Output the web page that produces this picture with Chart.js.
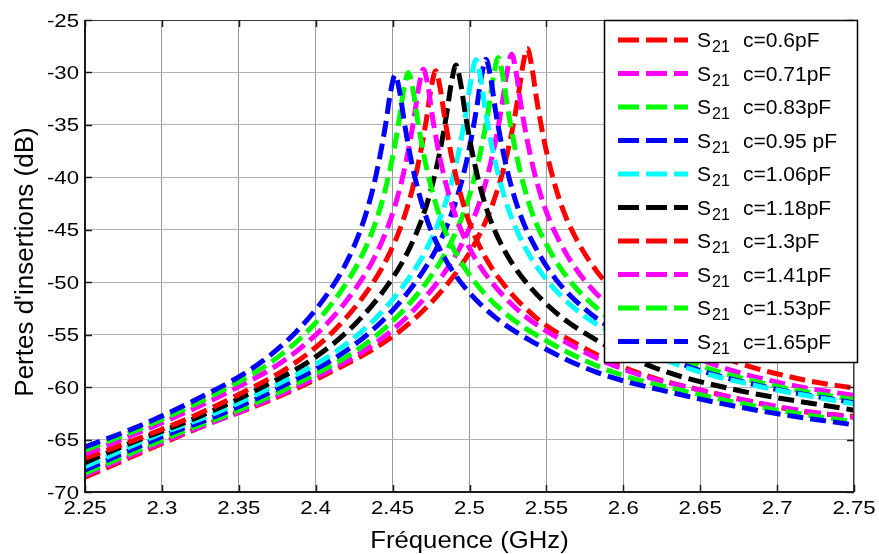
<!DOCTYPE html>
<html><head><meta charset="utf-8">
<script src="https://cdn.jsdelivr.net/npm/chart.js@4.4.1/dist/chart.umd.min.js"></script>
<style>html,body{margin:0;padding:0;background:#fff;}canvas{display:block;}</style>
</head><body>
<canvas id="c" width="879" height="554"></canvas>
<script>
const xTickValues = [2.25, 2.3, 2.35, 2.4, 2.45, 2.5, 2.55, 2.6, 2.65, 2.7, 2.75];
const xTickLabels = ['2.25','2.3','2.35','2.4','2.45','2.5','2.55','2.6','2.65','2.7','2.75'];
const yTickValues = [-70, -65, -60, -55, -50, -45, -40, -35, -30, -25];
const yTickLabels = ['-70','-65','-60','-55','-50','-45','-40','-35','-30','-25'];
const xTitle = 'Fréquence (GHz)';
const yTitle = "Pertes d'insertions (dB)";
const seriesPrefix = 'S';
const seriesSub = '21';
const seriesNames = ['c=0.6pF','c=0.71pF','c=0.83pF','c=0.95 pF','c=1.06pF','c=1.18pF','c=1.3pF','c=1.41pF','c=1.53pF','c=1.65pF'];
const seriesColors = ['#ff0000','#ff00ff','#00ff00','#0000ff','#00ffff','#000000','#ff0000','#ff00ff','#00ff00','#0000ff'];

const freq_c060 = [2.25, 2.3276, 2.3676, 2.4076, 2.4476, 2.4726, 2.4926, 2.5056, 2.5156, 2.5226, 2.5276, 2.5316, 2.5346, 2.5376, 2.5406, 2.5436, 2.5476, 2.5526, 2.5596, 2.5696, 2.5826, 2.6026, 2.6276, 2.6676, 2.7176, 2.75];
const loss_c060 = [-68.6, -63.67, -61.42, -58.72, -55.42, -52.32, -48.82, -45.72, -42.32, -38.92, -35.62, -32.32, -29.42, -27.72, -29.52, -32.52, -35.82, -39.12, -42.62, -45.92, -48.92, -52.02, -54.52, -57.32, -59.32, -60.1];
const freq_c071 = [2.25, 2.3174, 2.3574, 2.3974, 2.4374, 2.4624, 2.4824, 2.4954, 2.5054, 2.5124, 2.5174, 2.5214, 2.5244, 2.5274, 2.5304, 2.5334, 2.5374, 2.5424, 2.5494, 2.5594, 2.5724, 2.5924, 2.6174, 2.6574, 2.7074, 2.75];
const loss_c071 = [-68.4, -64.21, -61.96, -59.26, -55.96, -52.86, -49.36, -46.26, -42.86, -39.46, -36.16, -32.86, -29.96, -28.26, -30.06, -33.06, -36.36, -39.66, -43.06, -46.36, -49.36, -52.46, -54.96, -57.76, -59.76, -60.8];
const freq_c083 = [2.25, 2.3087, 2.3487, 2.3887, 2.4287, 2.4537, 2.4737, 2.4867, 2.4967, 2.5037, 2.5087, 2.5127, 2.5157, 2.5187, 2.5217, 2.5247, 2.5287, 2.5337, 2.5407, 2.5507, 2.5637, 2.5837, 2.6087, 2.6487, 2.6987, 2.75];
const loss_c083 = [-68.2, -64.53, -62.28, -59.58, -56.28, -53.18, -49.68, -46.58, -43.18, -39.78, -36.48, -33.18, -30.28, -28.58, -30.38, -33.28, -36.58, -39.88, -43.38, -46.58, -49.58, -52.58, -55.08, -57.88, -59.88, -61.2];
const freq_c095 = [2.25, 2.3007, 2.3407, 2.3807, 2.4207, 2.4457, 2.4657, 2.4787, 2.4887, 2.4957, 2.5007, 2.5047, 2.5077, 2.5107, 2.5137, 2.5167, 2.5207, 2.5257, 2.5327, 2.5427, 2.5557, 2.5757, 2.6007, 2.6407, 2.6907, 2.75];
const loss_c095 = [-67.9, -64.69, -62.44, -59.74, -56.44, -53.34, -49.84, -46.74, -43.34, -39.94, -36.64, -33.34, -30.44, -28.74, -30.44, -33.44, -36.74, -40.04, -43.44, -46.64, -49.64, -52.64, -55.14, -57.94, -59.94, -61.5];
const freq_c106 = [2.25, 2.2942, 2.3342, 2.3742, 2.4142, 2.4392, 2.4592, 2.4722, 2.4822, 2.4892, 2.4942, 2.4982, 2.5012, 2.5042, 2.5072, 2.5102, 2.5142, 2.5192, 2.5262, 2.5362, 2.5492, 2.5692, 2.5942, 2.6342, 2.6842, 2.75];
const loss_c106 = [-67.6, -64.75, -62.5, -59.8, -56.5, -53.4, -49.9, -46.8, -43.4, -40.0, -36.7, -33.4, -30.5, -28.8, -30.5, -33.5, -36.8, -40.0, -43.4, -46.7, -49.6, -52.6, -55.0, -57.8, -59.8, -61.6];
const freq_c118 = [2.25, 2.2812, 2.3212, 2.3612, 2.4012, 2.4262, 2.4462, 2.4592, 2.4692, 2.4762, 2.4812, 2.4852, 2.4882, 2.4912, 2.4942, 2.4972, 2.5012, 2.5062, 2.5132, 2.5232, 2.5362, 2.5562, 2.5812, 2.6212, 2.6712, 2.75];
const loss_c118 = [-67.2, -65.25, -63.0, -60.3, -57.0, -53.9, -50.4, -47.3, -43.9, -40.5, -37.2, -33.9, -31.0, -29.3, -31.0, -33.9, -37.2, -40.5, -43.9, -47.1, -49.9, -52.9, -55.4, -58.2, -60.2, -62.2];
const freq_c130 = [2.25, 2.308, 2.348, 2.388, 2.413, 2.433, 2.446, 2.456, 2.463, 2.468, 2.472, 2.475, 2.478, 2.481, 2.484, 2.488, 2.493, 2.500, 2.510, 2.523, 2.543, 2.568, 2.608, 2.658, 2.718, 2.75];
const loss_c130 = [-66.8, -63.55, -60.85, -57.55, -54.45, -50.95, -47.85, -44.45, -41.05, -37.75, -34.45, -31.55, -29.85, -31.55, -34.45, -37.75, -40.95, -44.35, -47.55, -50.35, -53.35, -55.75, -58.55, -60.55, -62.35, -62.8];
const freq_c141 = [2.25, 2.300, 2.340, 2.380, 2.405, 2.425, 2.438, 2.448, 2.455, 2.460, 2.464, 2.467, 2.470, 2.473, 2.476, 2.480, 2.485, 2.492, 2.502, 2.515, 2.535, 2.560, 2.600, 2.650, 2.710, 2.75];
const loss_c141 = [-66.4, -63.4, -60.7, -57.4, -54.3, -50.8, -47.7, -44.3, -40.9, -37.6, -34.3, -31.4, -29.7, -31.3, -34.3, -37.6, -40.8, -44.1, -47.3, -50.1, -53.1, -55.5, -58.3, -60.3, -62.1, -62.9];
const freq_c153 = [2.25, 2.2902, 2.3302, 2.3702, 2.3952, 2.4152, 2.4282, 2.4382, 2.4452, 2.4502, 2.4542, 2.4572, 2.4602, 2.4632, 2.4662, 2.4702, 2.4752, 2.4822, 2.4922, 2.5052, 2.5252, 2.5502, 2.5902, 2.6402, 2.7002, 2.75];
const loss_c153 = [-66.0, -63.7, -61.0, -57.7, -54.6, -51.1, -48.0, -44.6, -41.2, -37.9, -34.6, -31.7, -30.0, -31.6, -34.5, -37.8, -41.0, -44.4, -47.5, -50.3, -53.2, -55.6, -58.4, -60.4, -62.2, -63.3];
const freq_c165 = [2.25, 2.2816, 2.3216, 2.3616, 2.3866, 2.4066, 2.4196, 2.4296, 2.4366, 2.4416, 2.4456, 2.4486, 2.4516, 2.4546, 2.4576, 2.4616, 2.4666, 2.4736, 2.4836, 2.4966, 2.5166, 2.5416, 2.5816, 2.6316, 2.6916, 2.75];
const loss_c165 = [-65.7, -63.93, -61.23, -57.93, -54.83, -51.33, -48.23, -44.83, -41.43, -38.13, -34.83, -31.93, -30.23, -31.83, -34.73, -38.03, -41.23, -44.53, -47.63, -50.43, -53.33, -55.73, -58.53, -60.53, -62.33, -63.6];

const seriesFreq = [freq_c060, freq_c071, freq_c083, freq_c095, freq_c106, freq_c118, freq_c130, freq_c141, freq_c153, freq_c165];
const seriesLoss = [loss_c060, loss_c071, loss_c083, loss_c095, loss_c106, loss_c118, loss_c130, loss_c141, loss_c153, loss_c165];

const FONT = '"Liberation Sans", Arial, Helvetica, sans-serif';

function stretchText(ctx, txt, x, y, size, sx, align, baseline) {
  ctx.save();
  ctx.translate(x, y);
  ctx.scale(sx, 1);
  ctx.font = size + 'px ' + FONT;
  ctx.textAlign = align;
  ctx.textBaseline = baseline;
  ctx.fillText(txt, 0, 0);
  ctx.restore();
}

const decoPlugin = {
  id: 'deco',
  afterDraw(chart) {
    const ctx = chart.ctx;
    const a = chart.chartArea;
    const xs = chart.scales.x, ys = chart.scales.y;
    ctx.save();
    // frame
    ctx.strokeStyle = '#3a3a3a';
    ctx.lineWidth = 1;
    ctx.beginPath();
    ctx.moveTo(a.left, a.top + 0.5); ctx.lineTo(a.right, a.top + 0.5);
    ctx.moveTo(a.right - 0.5, a.top); ctx.lineTo(a.right - 0.5, a.bottom);
    ctx.stroke();
    ctx.strokeStyle = '#1a1a1a';
    ctx.lineWidth = 2;
    ctx.beginPath();
    ctx.moveTo(a.left, a.top); ctx.lineTo(a.left, a.bottom + 1);
    ctx.moveTo(a.left - 1, a.bottom); ctx.lineTo(a.right, a.bottom);
    ctx.stroke();
    // inward ticks
    ctx.lineWidth = 1.5;
    ctx.strokeStyle = '#1a1a1a';
    ctx.beginPath();
    xTickValues.forEach(v => {
      const px = Math.round(xs.getPixelForValue(v)) + 0.5;
      ctx.moveTo(px, a.bottom); ctx.lineTo(px, a.bottom - 7);
      ctx.moveTo(px, a.top); ctx.lineTo(px, a.top + 7);
    });
    yTickValues.forEach(v => {
      const py = Math.round(ys.getPixelForValue(v)) + 0.5;
      ctx.moveTo(a.left, py); ctx.lineTo(a.left + 7, py);
      ctx.moveTo(a.right, py); ctx.lineTo(a.right - 7, py);
    });
    ctx.stroke();
    // tick labels
    ctx.fillStyle = '#000';
    xTickValues.forEach((v, i) => {
      stretchText(ctx, xTickLabels[i], xs.getPixelForValue(v), a.bottom + 22, 18.5, 1.2, 'center', 'alphabetic');
    });
    yTickValues.forEach((v, i) => {
      stretchText(ctx, yTickLabels[i], a.left - 6, ys.getPixelForValue(v) + 6.5, 18.5, 1.2, 'right', 'alphabetic');
    });
    // axis titles
    stretchText(ctx, xTitle, (a.left + a.right) / 2, 548, 24, 1.07, 'center', 'alphabetic');
    ctx.save();
    ctx.translate(33, 262);
    ctx.rotate(-Math.PI / 2);
    ctx.font = '26px ' + FONT;
    ctx.textAlign = 'center';
    ctx.textBaseline = 'alphabetic';
    ctx.fillText(yTitle, 0, 0);
    ctx.restore();
    // legend
    const lx = 604, ly = a.top, lw = 253, lh = 342;
    ctx.fillStyle = '#fff';
    ctx.fillRect(lx, ly, lw, lh);
    ctx.strokeStyle = '#000';
    ctx.lineWidth = 1.5;
    ctx.strokeRect(lx + 0.5, ly + 0.5, lw, lh);
    chart.data.datasets.forEach((ds, i) => {
      const cy = 40 + i * 33.5;
      ctx.save();
      ctx.strokeStyle = ds.borderColor;
      ctx.lineWidth = 5;
      ctx.setLineDash([21, 7]);
      ctx.beginPath();
      ctx.moveTo(618, cy); ctx.lineTo(688, cy);
      ctx.stroke();
      ctx.restore();
      ctx.fillStyle = '#000';
      ctx.font = '21px ' + FONT;
      ctx.textAlign = 'left';
      ctx.textBaseline = 'alphabetic';
      ctx.fillText(seriesPrefix, 697, cy + 7);
      ctx.font = '16px ' + FONT;
      ctx.fillText(seriesSub, 712, cy + 12);
      ctx.font = '21px ' + FONT;
      ctx.fillText(seriesNames[i], 743, cy + 7);
    });
    ctx.restore();
  }
};

const datasets = seriesNames.map((name, i) => ({
  label: seriesPrefix + seriesSub + ' ' + name,
  data: seriesFreq[i].map((f, j) => ({ x: f, y: seriesLoss[i][j] })),
  borderColor: seriesColors[i],
  backgroundColor: seriesColors[i],
  borderWidth: 5,
  borderDash: [16, 7],
  borderCapStyle: 'butt',
  pointRadius: 0,
  showLine: true,
  fill: false,
  cubicInterpolationMode: 'monotone',
  order: seriesNames.length - i
}));

new Chart(document.getElementById('c'), {
  type: 'scatter',
  data: { datasets },
  options: {
    responsive: false,
    animation: false,
    devicePixelRatio: 1,
    layout: { padding: { left: 85, right: 25, top: 20, bottom: 62 } },
    plugins: { legend: { display: false }, tooltip: { enabled: false }, title: { display: false } },
    scales: {
      x: {
        type: 'linear', min: 2.25, max: 2.75,
        afterBuildTicks: s => { s.ticks = xTickValues.map(v => ({ value: v })); },
        afterFit: s => { s.height = 0; },
        ticks: { display: false },
        border: { display: false },
        grid: { color: '#9a9a9a', lineWidth: 1, drawTicks: false }
      },
      y: {
        type: 'linear', min: -70, max: -25,
        afterBuildTicks: s => { s.ticks = yTickValues.map(v => ({ value: v })); },
        afterFit: s => { s.width = 0; },
        ticks: { display: false },
        border: { display: false },
        grid: { color: '#b4b4b4', lineWidth: 1, drawTicks: false }
      }
    }
  },
  plugins: [decoPlugin]
});
</script>
</body></html>
